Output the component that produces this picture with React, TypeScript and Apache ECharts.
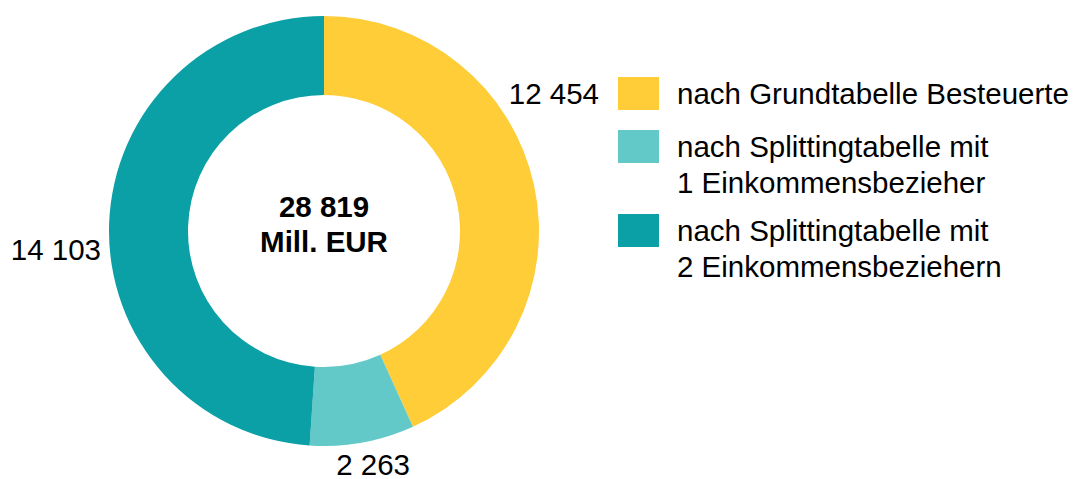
import React, { useEffect, useRef } from "react";
import * as echarts from "echarts";

const categories = [
  "nach Grundtabelle Besteuerte",
  "nach Splittingtabelle mit\n1 Einkommensbezieher",
  "nach Splittingtabelle mit\n2 Einkommensbeziehern",
];
const values = [12454, 2263, 14103];
const totalLabel = "28 819\nMill. EUR";
const colors = ["#FECD37", "#62C8C8", "#0AA0A5"];
const labelPositions = [
  { x: 599, y: 93 },
  { x: 410, y: 464 },
  { x: 101, y: 249 },
];

const fmt = (v: number) => String(v).replace(/\B(?=(\d{3})+(?!\d))/g, " ");
const FONT = "Liberation Sans";
const FS = 29.5;

export default function App() {
  const ref = useRef<HTMLDivElement>(null);
  useEffect(() => {
    document.body.style.margin = "0";
    const chart = echarts.init(ref.current!, null, { renderer: "svg" });
    const squareTops = [77, 130, 214];
    chart.setOption({
      animation: false,
      backgroundColor: "#ffffff",
      textStyle: { fontFamily: FONT },
      legend: categories.map((c, i) => {
        const multi = c.includes("\n");
        return {
          data: [c],
          orient: "vertical",
          left: 618,
          top: squareTops[i] - (multi ? 37.5 : 1.5),
          padding: 0,
          itemWidth: 41,
          itemHeight: 33,
          itemGap: 0,
          icon: "rect",
          selectedMode: false,
          formatter: (name: string) => (name.includes("\n") ? "\n" + name : name),
          textStyle: {
            fontFamily: FONT,
            fontSize: FS,
            color: "#000",
            lineHeight: 36,
            padding: [0, 0, 0, 13],
          },
        };
      }),
      series: [
        {
          type: "pie",
          center: [324, 231],
          radius: [136, 215],
          startAngle: 90,
          clockwise: true,
          silent: true,
          data: values.map((v, i) => ({
            name: categories[i],
            value: v,
            itemStyle: { color: colors[i] },
          })),
          label: {
            show: true,
            position: "outside",
            formatter: (p: any) => fmt(p.value),
            fontFamily: FONT,
            fontSize: FS,
            lineHeight: 22,
            color: "#000",
            overflow: "none",
          },
          labelLine: { show: false },
          labelLayout: (p: any) => {
            const lp = labelPositions[p.dataIndex];
            return { x: lp.x, y: lp.y, align: "right", verticalAlign: "middle" };
          },
        },
      ],
      graphic: [
        {
          type: "text",
          x: 324,
          y: 224,
          style: {
            text: totalLabel,
            fontFamily: FONT,
            fontSize: FS,
            fontWeight: "bold",
            lineHeight: 35,
            fill: "#000",
            align: "center",
            verticalAlign: "middle",
          },
        },
      ],
    });
    return () => chart.dispose();
  }, []);
  return <div ref={ref} style={{ width: 1075, height: 479 }} />;
}
